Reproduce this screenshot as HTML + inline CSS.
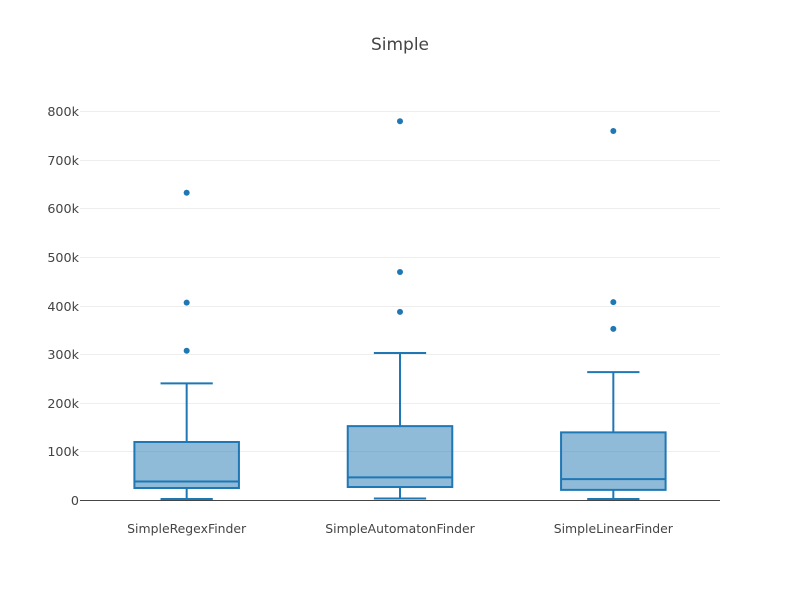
<!DOCTYPE html>
<html lang="en">
<head>
<meta charset="utf-8">
<title>Simple</title>
<style>
html,body{margin:0;padding:0;background:#fff;}
svg{display:block;}
text{font-family:"DejaVu Sans","Liberation Sans",sans-serif;fill:#444;}
</style>
</head>
<body>
<svg id="chart" xmlns="http://www.w3.org/2000/svg" width="800" height="600" viewBox="0 0 800 600">
<rect x="0" y="0" width="800" height="600" fill="#fff"/>
<text x="400" y="50" text-anchor="middle" font-size="17">Simple</text>
<g id="grid"></g>
<g id="boxes"></g>
<g id="yticks"></g>
<g id="xticks"></g>
</svg>
<script>
var categories = ["SimpleRegexFinder", "SimpleAutomatonFinder", "SimpleLinearFinder"];
var tickValues = [0, 100000, 200000, 300000, 400000, 500000, 600000, 700000, 800000];
var tickLabels = ["0", "100k", "200k", "300k", "400k", "500k", "600k", "700k", "800k"];
var whiskerLow = [3000, 4000, 3000];
var q1 = [25700, 27800, 21800];
var median = [39000, 47500, 44000];
var q3 = [120300, 153000, 140000];
var whiskerHigh = [241000, 303300, 264000];
var outliers = [
  [308000, 407000, 633000],
  [388000, 470000, 780000],
  [353000, 408000, 760000]
];

var NS = 'http://www.w3.org/2000/svg';
var plotLeft = 80, plotRight = 720, zeroY = 500.5, top800 = 111.5;
var COLOR = 'rgb(31,119,180)';

function yScale(v) { return zeroY + (top800 - zeroY) * v / 800000; }
function xScale(i) { return plotLeft + (plotRight - plotLeft) * (i + 0.5) / categories.length; }
function make(tag, attrs, parent) {
  var el = document.createElementNS(NS, tag);
  for (var k in attrs) el.setAttribute(k, attrs[k]);
  parent.appendChild(el);
  return el;
}
function widen(el, factor) {
  el.setAttribute('textLength', (el.getComputedTextLength() * factor).toFixed(2));
  el.setAttribute('lengthAdjust', 'spacingAndGlyphs');
}

var grid = document.getElementById('grid');
var yticks = document.getElementById('yticks');
var xticks = document.getElementById('xticks');
var boxes = document.getElementById('boxes');

tickValues.forEach(function (v, i) {
  var y = Math.round(yScale(v) - 0.5) + 0.5;
  var isZero = v === 0;
  if (!isZero) {
    var line = make('line', {x1: plotLeft, x2: plotRight, y1: y, y2: y, stroke: '#eee', 'stroke-width': 1}, grid);
    
    
  }
  var label = make('text', {x: 79, y: y + 4.5, 'text-anchor': 'end', 'font-size': 12}, yticks);
  label.textContent = tickLabels[i];
  
  
  widen(label, 1.06);
});

categories.forEach(function (name, i) {
  var cx = xScale(i);
  var halfBox = 52.27, halfCap = 26.13;
  var g = make('g', {}, boxes);
  
  

  var yQ1 = yScale(q1[i]), yQ3 = yScale(q3[i]), yMed = yScale(median[i]);
  var yLo = yScale(whiskerLow[i]), yHi = yScale(whiskerHigh[i]);
  var d = 'M' + (cx - halfBox) + ',' + yMed + 'H' + (cx + halfBox) +
          'M' + (cx - halfBox) + ',' + yQ1 + 'H' + (cx + halfBox) + 'V' + yQ3 + 'H' + (cx - halfBox) + 'Z' +
          'M' + cx + ',' + yQ1 + 'V' + yLo +
          'M' + cx + ',' + yQ3 + 'V' + yHi +
          'M' + (cx - halfCap) + ',' + yLo + 'H' + (cx + halfCap) +
          'M' + (cx - halfCap) + ',' + yHi + 'H' + (cx + halfCap);
  var path = make('path', {d: d, fill: 'rgba(31,119,180,0.5)', stroke: COLOR, 'stroke-width': 2}, g);
  
  

  outliers[i].forEach(function (v) {
    var pt = make('circle', {cx: cx, cy: yScale(v), r: 3, fill: COLOR}, g);
    
    
  });

  var label = make('text', {x: cx, y: 533, 'text-anchor': 'middle', 'font-size': 12}, xticks);
  label.textContent = name;
  
  
  widen(label, 1.035);
});

var zero = make('line', {x1: plotLeft, x2: plotRight, y1: zeroY, y2: zeroY, stroke: '#444', 'stroke-width': 1}, document.getElementById('chart'));


</script>
</body>
</html>
